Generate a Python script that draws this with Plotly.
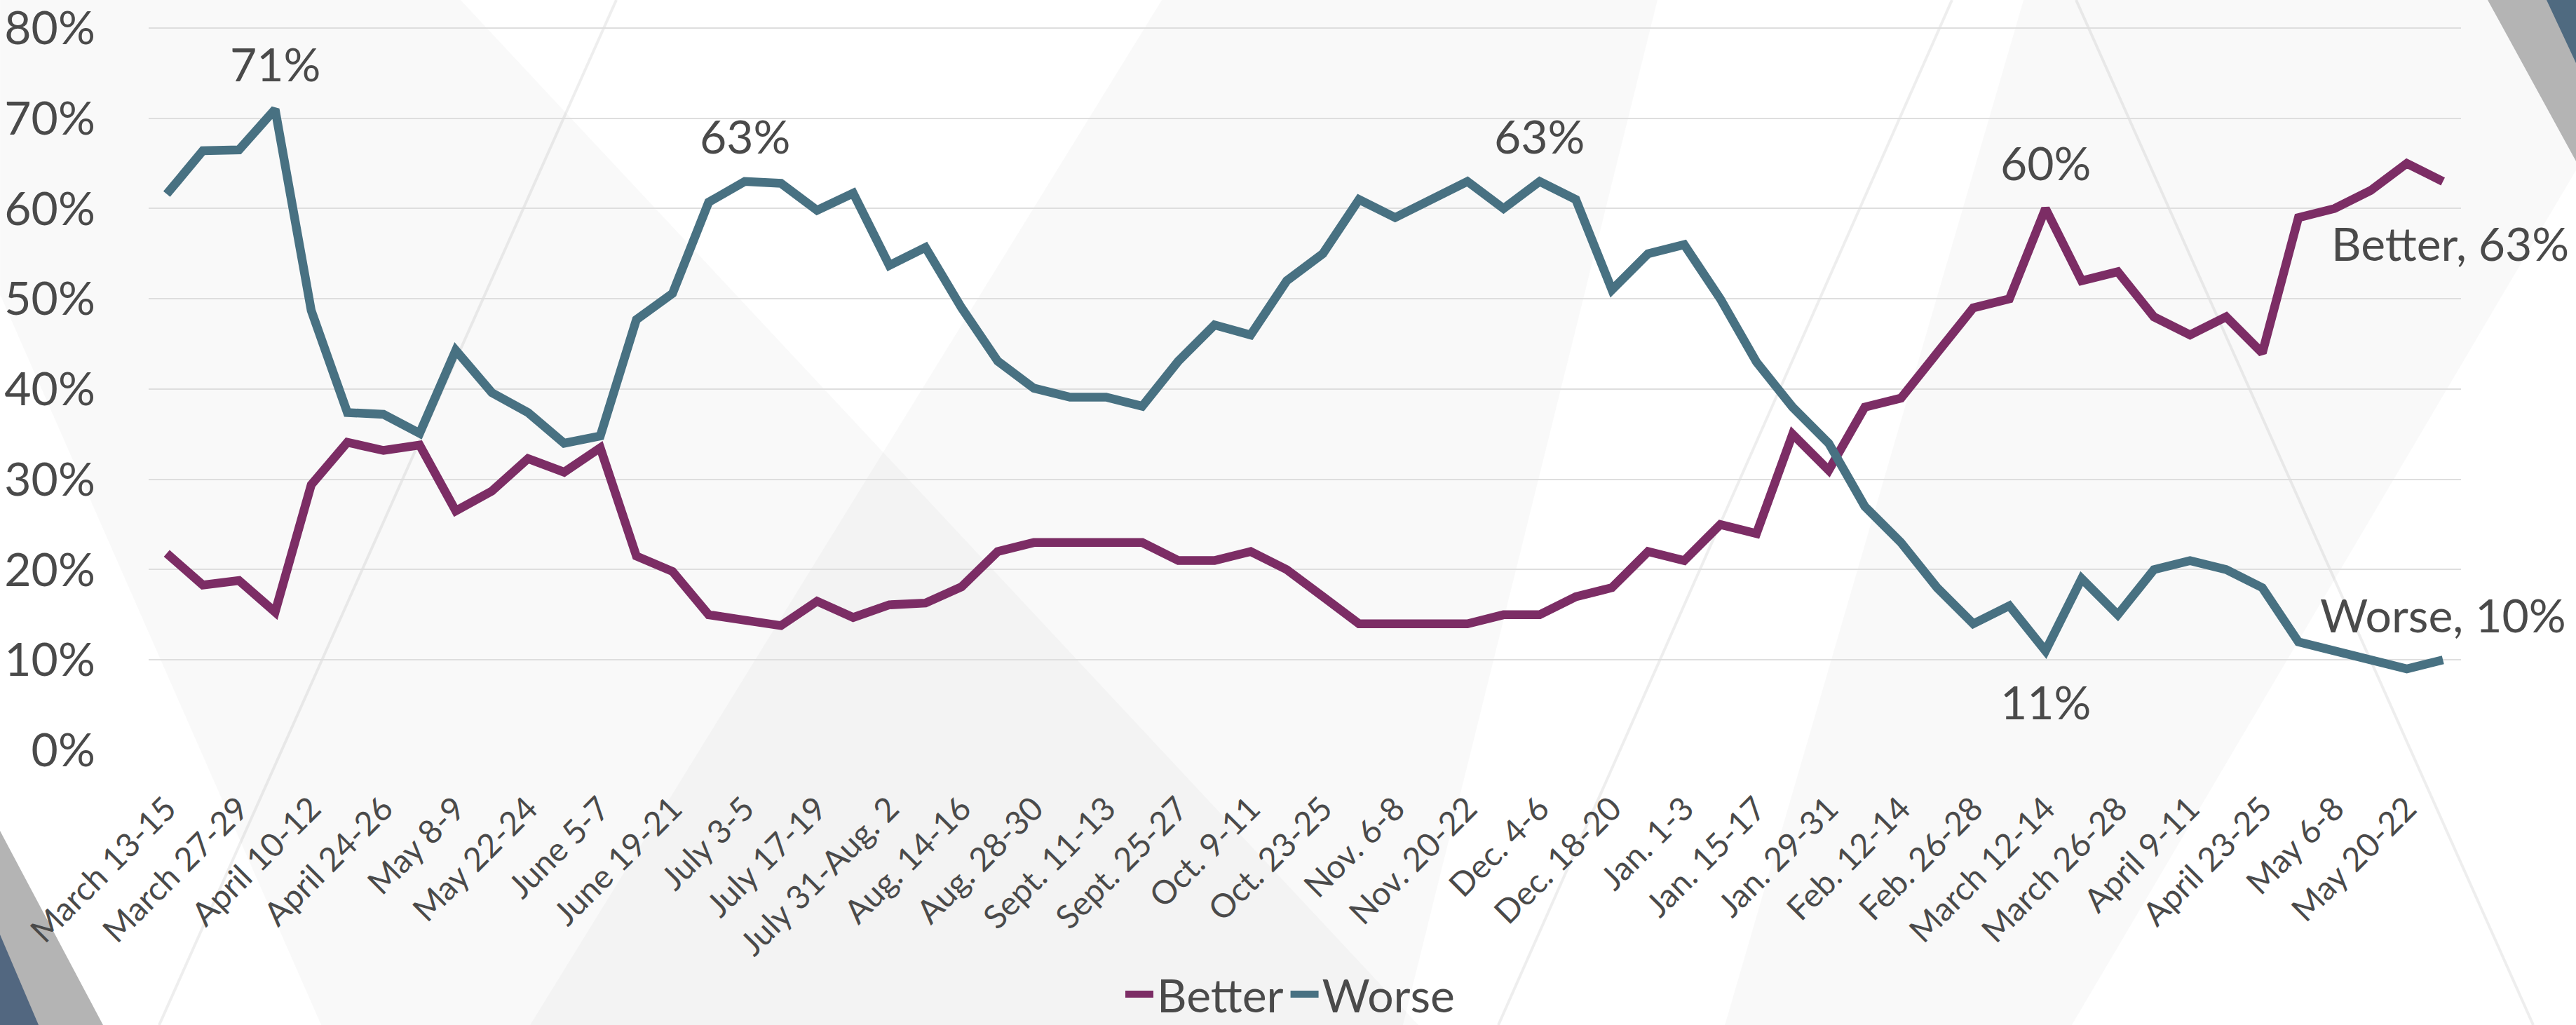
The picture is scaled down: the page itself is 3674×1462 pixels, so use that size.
import plotly.graph_objects as go

# Survey fieldwork periods (weekly)
weeks = [
    "March 13-15", "March 20-22", "March 27-29", "April 3-5", "April 10-12",
    "April 17-19", "April 24-26", "May 1-3", "May 8-9", "May 15-17",
    "May 22-24", "May 29-31", "June 5-7", "June 12-14", "June 19-21",
    "June 26-28", "July 3-5", "July 10-12", "July 17-19", "July 24-26",
    "July 31-Aug. 2", "Aug. 7-9", "Aug. 14-16", "Aug. 21-23", "Aug. 28-30",
    "Sept. 4-6", "Sept. 11-13", "Sept. 18-20", "Sept. 25-27", "Oct. 2-4",
    "Oct. 9-11", "Oct. 16-18", "Oct. 23-25", "Oct. 30-Nov. 1", "Nov. 6-8",
    "Nov. 13-15", "Nov. 20-22", "Nov. 27-29", "Dec. 4-6", "Dec. 11-13",
    "Dec. 18-20", "Dec. 25-27", "Jan. 1-3", "Jan. 8-10", "Jan. 15-17",
    "Jan. 22-24", "Jan. 29-31", "Feb. 5-7", "Feb. 12-14", "Feb. 19-21",
    "Feb. 26-28", "March 5-7", "March 12-14", "March 19-21", "March 26-28",
    "April 2-4", "April 9-11", "April 16-18", "April 23-25", "April 30-May 2",
    "May 6-8", "May 13-15", "May 20-22", "May 27-29",
]

# Share saying things are getting better / worse (%)
better = [
    21.8, 18.3, 18.8, 15.3, 29.4, 34.1, 33.2, 33.8, 26.5, 28.7,
    32.3, 30.8, 33.5, 21.5, 19.8, 15.0, 14.4, 13.8, 16.5, 14.7,
    16.1, 16.3, 18.1, 22, 23, 23, 23, 23, 21, 21,
    22, 20, 17, 14, 14, 14, 14, 15, 15, 17,
    18, 22, 21, 25, 24, 35, 31, 38, 39, 44,
    49, 50, 60, 52, 53, 48, 46, 48, 44, 59,
    60, 62, 65, 63,
]
worse = [
    61.6, 66.4, 66.5, 71, 48.7, 37.4, 37.2, 35.1, 44.3, 39.6,
    37.4, 34.0, 34.8, 47.7, 50.6, 60.7, 63, 62.8, 59.8, 61.7,
    53.7, 55.7, 49.0, 43.1, 40.1, 39.1, 39.1, 38.1, 43.1, 47.1,
    46.0, 52, 55, 61, 59, 61, 63, 60, 63, 61,
    51, 55, 56, 50, 43, 38, 34, 27, 23, 18,
    14, 16, 11, 19, 15, 20, 21, 20, 18, 12,
    11, 10, 9, 10,
]

y_ticks = [0, 10, 20, 30, 40, 50, 60, 70, 80]

BETTER_COLOR = "#7c2d65"
WORSE_COLOR = "#487182"
TEXT_COLOR = "#4a4a4a"
FONT = "Lato, 'Open Sans', sans-serif"

W, H = 3674, 1462
Y_TOP = 80.15
ML, MR, MB = 212, 164, 392
MT = 40 - round((Y_TOP - 80) * 12.875)
PW, PH = W - ML - MR, H - MT - MB


def px(x):
    return (x - ML) / PW


def py(y):
    return (H - MB - y) / PH


def poly(points):
    return "M " + " L ".join(f"{px(a):.5f},{py(b):.5f}" for a, b in points) + " Z"


def seg(p0, p1):
    return f"M {px(p0[0]):.5f},{py(p0[1]):.5f} L {px(p1[0]):.5f},{py(p1[1]):.5f}"


fig = go.Figure()
fig.add_trace(go.Scatter(
    x=weeks, y=better, name="Better", mode="lines",
    line=dict(color=BETTER_COLOR, width=12.5),
))
fig.add_trace(go.Scatter(
    x=weeks, y=worse, name="Worse", mode="lines",
    line=dict(color=WORSE_COLOR, width=12.5),
))

# Slide-style background geometry (canvas pixel coordinates)
shapes = []
tint = "rgba(0,0,0,0.025)"
for pts in [
    [(0, 0), (657, 0), (2023, 1462), (458, 1462), (0, 420)],
    [(756, 1462), (1657, 0), (2364, 0), (2001, 1462)],
    [(2886, 0), (3548, 0), (3674, 230), (3674, 243), (2955, 1462), (2460, 1462)],
]:
    shapes.append(dict(type="path", xref="paper", yref="paper", path=poly(pts),
                       fillcolor=tint, line=dict(width=0), layer="below"))
for a, b in [((879, 0), (227, 1462)), ((2784, 0), (2137, 1462)), ((2961, 0), (3613, 1462))]:
    shapes.append(dict(type="path", xref="paper", yref="paper", path=seg(a, b),
                       line=dict(color="rgba(0,0,0,0.065)", width=4), layer="below"))
for pts, col in [
    ([(3548, 0), (3674, 0), (3674, 230)], "#b4b4b4"),
    ([(3632, 0), (3674, 0), (3674, 90)], "#4f6a80"),
    ([(0, 1185), (147, 1462), (0, 1462)], "#b4b4b4"),
    ([(0, 1333), (55, 1462), (0, 1462)], "#526780"),
]:
    shapes.append(dict(type="path", xref="paper", yref="paper", path=poly(pts),
                       fillcolor=col, line=dict(width=0), layer="below"))

# Value labels on notable points
label_font = dict(family=FONT, size=66, color=TEXT_COLOR)
annotations = []
for series, idx, shift in [(worse, 3, 24), (worse, 16, 24), (worse, 38, 24),
                           (better, 52, 24), (worse, 52, -31)]:
    annotations.append(dict(
        x=weeks[idx], y=series[idx], text=f"{series[idx]:.0f}%", showarrow=False,
        xanchor="center", yanchor="bottom" if shift > 0 else "top", yshift=shift,
        font=label_font,
    ))
annotations.append(dict(
    x=weeks[-1], y=better[-1], text=f"Better, {better[-1]:.0f}%", showarrow=False,
    xanchor="center", yanchor="top", xshift=10, yshift=-46, font=label_font,
))
annotations.append(dict(
    x=weeks[-1], y=worse[-1], text=f"Worse, {worse[-1]:.0f}%", showarrow=False,
    xanchor="center", yanchor="bottom", yshift=23, font=label_font,
))

fig.update_layout(
    width=W, height=H,
    margin=dict(l=ML, r=MR, t=MT, b=MB, pad=0, autoexpand=False),
    paper_bgcolor="white",
    plot_bgcolor="rgba(0,0,0,0)",
    font=dict(family=FONT, color=TEXT_COLOR),
    shapes=shapes,
    annotations=annotations,
    showlegend=True,
    legend=dict(
        orientation="h", x=px(1840), xanchor="center", y=py(1418), yanchor="middle",
        font=dict(family=FONT, size=66, color=TEXT_COLOR),
        bgcolor="rgba(0,0,0,0)", itemwidth=40, tracegroupgap=0,
    ),
    xaxis=dict(
        type="category", range=[-0.5, len(weeks) - 0.5], dtick=2, tick0=0,
        tickangle=-45, tickfont=dict(family=FONT, size=47, color=TEXT_COLOR),
        ticks="outside", ticklen=36, tickcolor="rgba(0,0,0,0)",
        showgrid=False, showline=False, zeroline=False, automargin=False,
    ),
    yaxis=dict(
        range=[0, Y_TOP], tickvals=y_ticks, ticktext=[f"{v}%" for v in y_ticks],
        tickfont=dict(family=FONT, size=66, color=TEXT_COLOR),
        ticks="outside", ticklen=62, tickcolor="rgba(0,0,0,0)",
        ticklabeloverflow="allow", automargin=False,
        showgrid=True, gridcolor="#dedede", gridwidth=2,
        zeroline=False, showline=False,
    ),
)

fig.write_html("out.html")
